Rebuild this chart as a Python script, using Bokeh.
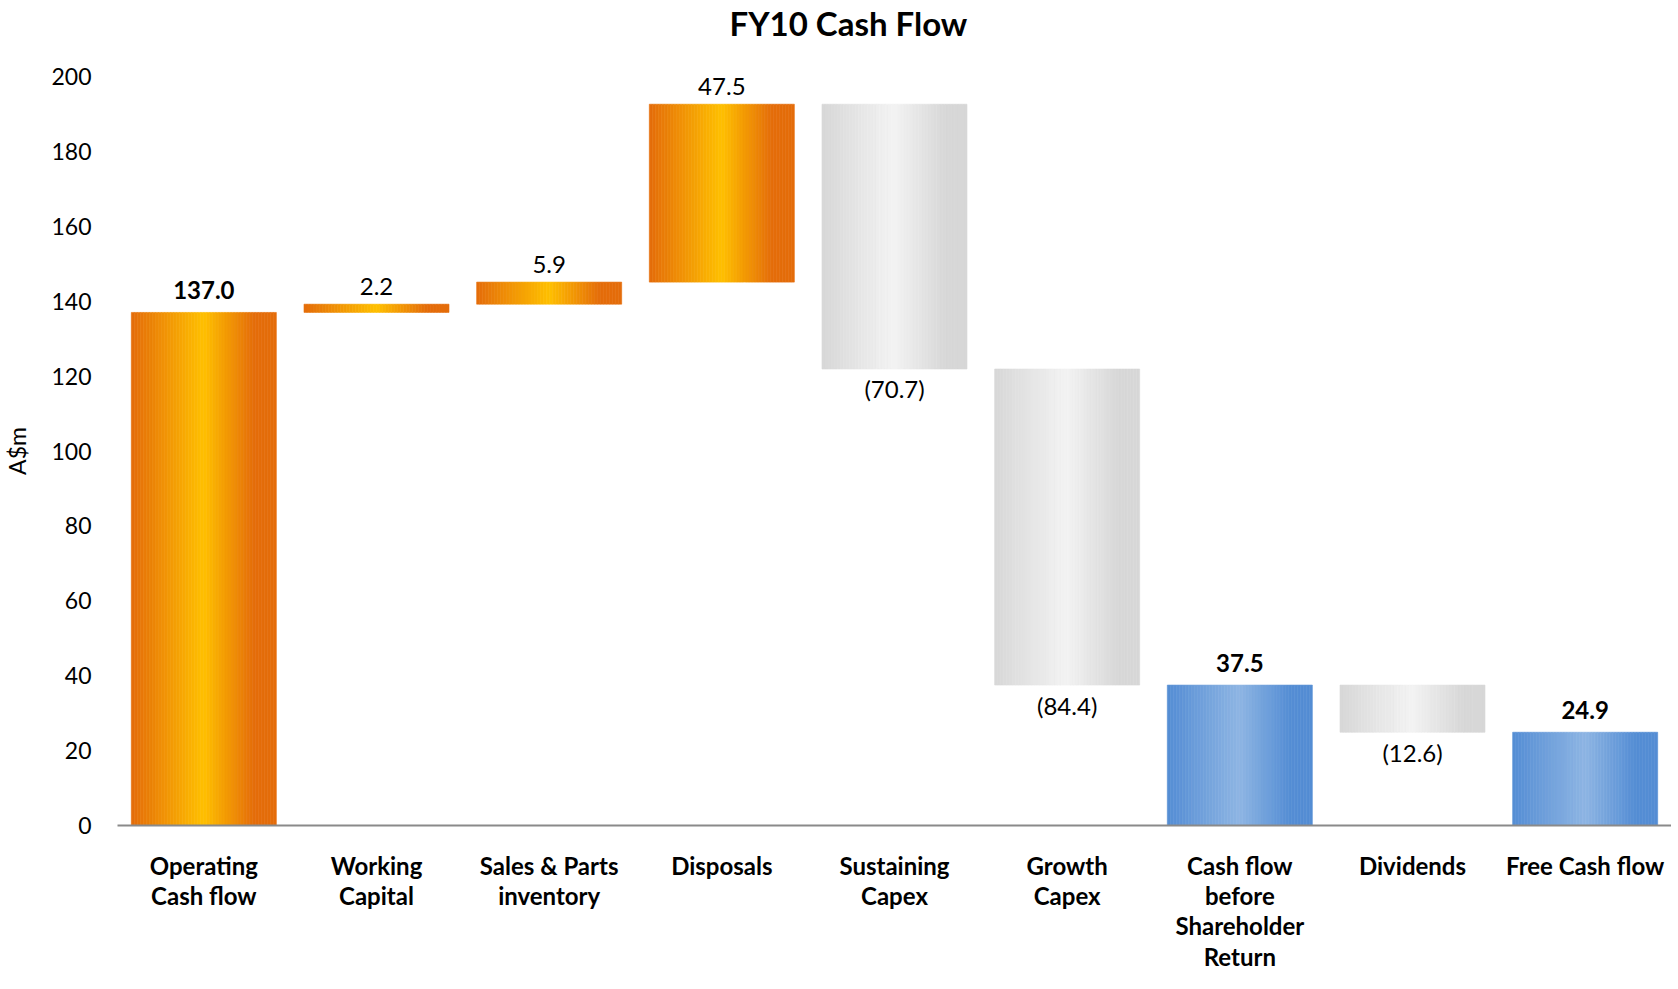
import numpy as np
from bokeh.plotting import figure
from bokeh.models import ColumnDataSource, FixedTicker, Range1d, Title
from bokeh.core.properties import value
from bokeh.embed import file_html
from bokeh.resources import INLINE

# ---- data ----
categories = ["Operating\nCash flow", "Working\nCapital", "Sales & Parts\ninventory", "Disposals",
              "Sustaining\nCapex", "Growth\nCapex", "Cash flow\nbefore\nShareholder\nReturn",
              "Dividends", "Free Cash flow"]
amounts = [137.0, 2.2, 5.9, 47.5, -70.7, -84.4, 37.5, -12.6, 24.9]
kinds = ["start", "up", "up", "up", "down", "down", "total", "down", "total"]
value_labels = ["137.0", "2.2", "5.9", "47.5", "(70.7)", "(84.4)", "37.5", "(12.6)", "24.9"]
y_ticks = [0, 20, 40, 60, 80, 100, 120, 140, 160, 180, 200]

FONT = "Lato"
BAR_W = 0.84
N_STRIPES = 48

palettes = {
    "orange": ((228, 108, 10), (255, 192, 0)),
    "grey": ((215, 215, 215), (243, 243, 243)),
    "blue": ((84, 141, 212), (142, 181, 227)),
}
kind_palette = {"start": "orange", "up": "orange", "down": "grey", "total": "blue"}

# waterfall bottoms / tops
bottoms, tops = [], []
running = 0.0
for a, k in zip(amounts, kinds):
    if k in ("start", "total"):
        b, t = 0.0, a
        running = a
    else:
        b, t = sorted([running, running + a])
        running += a
    bottoms.append(b)
    tops.append(t)


def mix(u):
    # brightest near the middle, back to the edge colour by 85% of the width
    if u < 0.5:
        return u / 0.5
    return max(0.0, 1.0 - (u - 0.5) / 0.35)


# gradient stripes
sl, sr, sb, st, sc = [], [], [], [], []
for i, (b, t, k) in enumerate(zip(bottoms, tops, kinds)):
    edge, center = palettes[kind_palette[k]]
    x0 = i + 0.5 - BAR_W / 2
    dw = BAR_W / N_STRIPES
    for j in range(N_STRIPES):
        m = mix((j + 0.5) / N_STRIPES)
        c = tuple(int(round(e + (cc - e) * m)) for e, cc in zip(edge, center))
        sl.append(x0 + j * dw)
        sr.append(x0 + (j + 1) * dw)
        sb.append(b)
        st.append(t)
        sc.append("#%02x%02x%02x" % c)
stripes = ColumnDataSource(dict(left=sl, right=sr, bottom=sb, top=st, color=sc))

p = figure(width=1671, height=973, output_backend="svg", toolbar_location=None,
           x_range=Range1d(0, len(categories)), y_range=Range1d(0, 200),
           min_border_left=0, min_border_right=0, min_border_top=0, min_border_bottom=0)
p.outline_line_color = None
p.xgrid.visible = False
p.ygrid.visible = False

# spacer between frame and title (nearest the frame), then the title itself
p.add_layout(Title(text=" ", text_font_size="2px", standoff=26), "above")
p.add_layout(Title(text="FY10 Cash Flow", align="left", vertical_align="top",
                   text_font=FONT, text_font_size="33px", text_font_style="bold",
                   text_color="black", offset=612, standoff=4), "above")

p.quad(left="left", right="right", bottom="bottom", top="top", fill_color="color",
       line_color="color", line_width=0.6, source=stripes)

# value labels
lx, ly, lt, loff, lstyle = [], [], [], [], []
for i, (b, t, k, txt) in enumerate(zip(bottoms, tops, kinds, value_labels)):
    lx.append(i + 0.5)
    lt.append(txt)
    bold = k in ("start", "total")
    if k == "down":
        ly.append(b)
        loff.append(20)
    else:
        ly.append(t)
        loff.append(-22 if bold else -18)
    lstyle.append("bold" if bold else "normal")
labels = ColumnDataSource(dict(x=lx, y=ly, text=lt, off=loff, style=lstyle))
p.text(x="x", y="y", text="text", y_offset="off", text_font_style="style", source=labels,
       text_align="center", text_baseline="middle", text_font=value(FONT),
       text_font_size="24px", text_color="black")

# axes
p.yaxis.ticker = FixedTicker(ticks=y_ticks)
p.yaxis.axis_line_color = None
p.yaxis.major_tick_line_color = None
p.yaxis.minor_tick_line_color = None
p.yaxis.major_label_text_font = FONT
p.yaxis.major_label_text_font_size = "23px"
p.yaxis.major_label_text_color = "black"
p.yaxis.major_label_standoff = 20
p.yaxis.axis_label = "A$m"
p.yaxis.axis_label_text_font = FONT
p.yaxis.axis_label_text_font_size = "23px"
p.yaxis.axis_label_text_font_style = "normal"
p.yaxis.axis_label_text_color = "black"
p.yaxis.axis_label_standoff = 17

xt = [i + 0.5 for i in range(len(categories))]
p.xaxis.ticker = FixedTicker(ticks=xt)
p.xaxis.major_label_overrides = {x: c for x, c in zip(xt, categories)}
p.xaxis.axis_line_color = "#8a8a8a"
p.xaxis.axis_line_width = 2
p.xaxis.major_tick_line_color = None
p.xaxis.minor_tick_line_color = None
p.xaxis.major_label_text_font = FONT
p.xaxis.major_label_text_font_size = "24px"
p.xaxis.major_label_text_font_style = "bold"
p.xaxis.major_label_text_color = "black"
p.xaxis.major_label_text_line_height = 1.05
p.xaxis.major_label_standoff = 19

open("out.html", "w").write(file_html(p, INLINE))
